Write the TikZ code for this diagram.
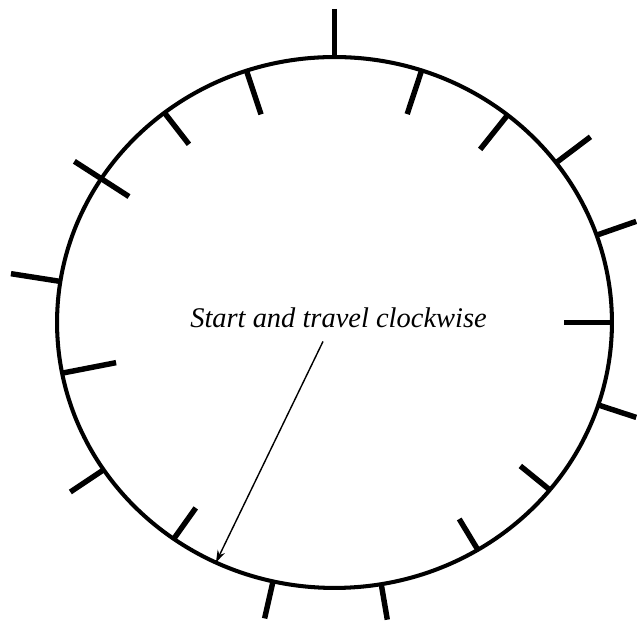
\documentclass[tikz,border=0pt]{standalone}
\usepackage{fontspec}
\setmainfont{Liberation Serif}
\usetikzlibrary{arrows.meta, calc}

\begin{document}
\begin{tikzpicture}[x=0.02cm, y=0.02cm,
    rim/.style={line width=2.3pt},
    tick/.style={line width=3.1pt},
    pointer/.style={line width=0.8pt, -{Stealth[length=7pt, width=4.5pt]}}]
  \useasboundingbox (0,0) rectangle (637,625);
  \coordinate (c) at (334.5,302.5);
  \draw[rim] (c) ellipse [x radius=5.55cm, y radius=5.31cm];
  % angle / inside / outside
  \foreach \a/\i/\o in {90/0/48, 71.7/46/0, 51.4/44/0, 37/0/43, 19.2/0/42,
      0/48/0, -18.1/0/40, -39.1/38/0, -58.9/36/0, -80.3/0/36, -102.8/0/38,
      -125.4/38/0, -146.3/0/40, -169/55/0, 171.1/0/50, 147.2/33/32,
      127.8/40/0, 108.5/46/0}
    \draw[tick] ($(c)+(\a:{277.5+\o} and {265.5+\o})$)
      -- ($(c)+(\a:{277.5-\i} and {265.5-\i})$);
  \node[font=\itshape\fontsize{16.2}{19}\selectfont, anchor=base] (lbl)
    at (338.5,297) {Start and travel clockwise};
  \coordinate (tip) at ($(c)+(-115.3:277.5 and 265.5)$);
  \draw[pointer] ($(lbl.south)+(-15.5,-7)$) -- (tip);
\end{tikzpicture}
\end{document}
